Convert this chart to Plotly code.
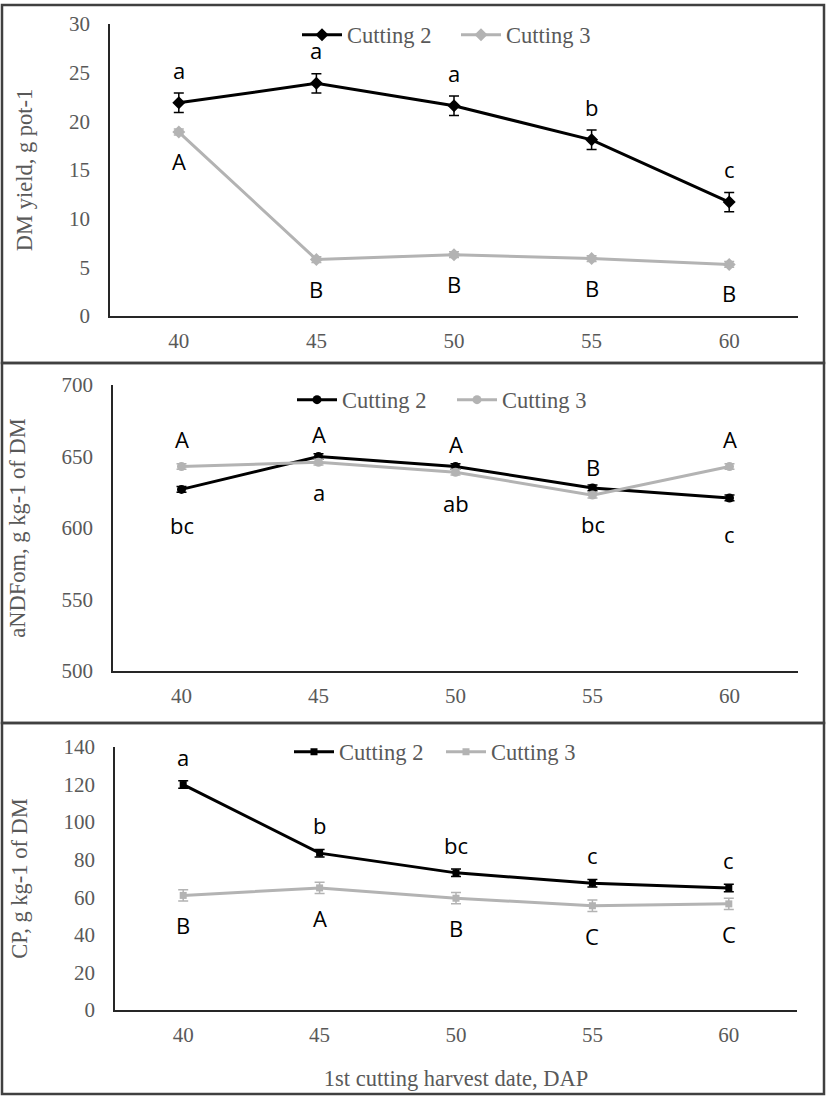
import plotly.graph_objects as go

# ---------------- data ----------------
dap = ["40", "45", "50", "55", "60"]

dm_c2 = [21.9, 23.9, 21.6, 18.1, 11.7]
dm_c2_err = [1.0, 1.0, 1.0, 1.0, 1.0]
dm_c3 = [18.9, 5.8, 6.3, 5.9, 5.3]
dm_c3_err = [0.3, 0.3, 0.3, 0.3, 0.3]
dm_c2_letters = ["a", "a", "a", "b", "c"]
dm_c3_letters = ["A", "B", "B", "B", "B"]

ndf_c2 = [627, 650, 643, 628, 621]
ndf_c2_err = [2, 2, 2, 2, 2]
ndf_c3 = [643, 646, 639, 623, 643]
ndf_c3_err = [2, 2, 2, 2, 2]
ndf_c2_letters = ["bc", "a", "ab", "bc", "c"]
ndf_c3_letters = ["A", "A", "A", "B", "A"]

cp_c2 = [120, 83.5, 73, 67.5, 65]
cp_c2_err = [2, 2, 2, 2, 2]
cp_c3 = [61, 65, 59.5, 55.5, 56.5]
cp_c3_err = [3, 3, 3, 3, 3]
cp_c2_letters = ["a", "b", "bc", "c", "c"]
cp_c3_letters = ["B", "A", "B", "C", "C"]

series_names = ["Cutting 2", "Cutting 3"]
y_titles = ["DM yield, g pot-1", "aNDFom, g kg-1 of DM", "CP, g kg-1 of DM"]
x_title = "1st cutting harvest date, DAP"

# ---------------- styling ----------------
W, H = 827, 1097
BLACK = "#000000"
GRAY = "#b3b3b3"
TXT = "#595959"
SERIF = "Liberation Serif"
SANS = "Open Sans"
TICK_SIZE = 21
TITLE_SIZE = 22.5
LETTER_SIZE = 22


def px_x(v):
    return v / W


def px_y(v):
    return 1 - v / H


fig = go.Figure()

panels = [
    dict(c2=dm_c2, c2e=dm_c2_err, c3=dm_c3, c3e=dm_c3_err, l2=dm_c2_letters, l3=dm_c3_letters,
         sym="diamond", sz=10, rng=[0, 30], dt=5, xd=[110, 798], yd=[24, 316],
         s2=33, s3=-29, leg_x=297, leg_y=35, ew=104),
    dict(c2=ndf_c2, c2e=ndf_c2_err, c3=ndf_c3, c3e=ndf_c3_err, l2=ndf_c2_letters, l3=ndf_c3_letters,
         sym="circle", sz=9, rng=[500, 700], dt=50, xd=[113, 798], yd=[385, 671],
         s2=-36, s3=28, leg_x=292, leg_y=400, ew=105),
    dict(c2=cp_c2, c2e=cp_c2_err, c3=cp_c3, c3e=cp_c3_err, l2=cp_c2_letters, l3=cp_c3_letters,
         sym="square", sz=7, rng=[0, 140], dt=20, xd=[115, 797], yd=[747, 1010],
         s2=28, s3=-30, leg_x=289, leg_y=752, ew=97),
]

layout_extra = {}
annotations = []
for i, p in enumerate(panels):
    n = i + 1
    xa = "x" if n == 1 else f"x{n}"
    ya = "y" if n == 1 else f"y{n}"
    leg = "legend" if n == 1 else f"legend{n}"
    for name, vals, errs, col in [(series_names[0], p["c2"], p["c2e"], BLACK),
                                  (series_names[1], p["c3"], p["c3e"], GRAY)]:
        fig.add_trace(go.Scatter(
            x=dap, y=vals, name=name, mode="lines+markers",
            line=dict(color=col, width=3),
            marker=dict(symbol=p["sym"], size=p["sz"], color=col),
            error_y=dict(type="data", array=errs, color=col, thickness=1.5, width=5),
            xaxis=xa, yaxis=ya, legend=leg, showlegend=True,
        ))
    for vals, letters, shift in [(p["c2"], p["l2"], p["s2"]), (p["c3"], p["l3"], p["s3"])]:
        for j, (v, t) in enumerate(zip(vals, letters)):
            annotations.append(dict(
                x=j, y=v, xref=xa, yref=ya, text=t, showarrow=False,
                yshift=shift, font=dict(family=SANS, size=LETTER_SIZE, color=BLACK),
            ))
    xkey = "xaxis" if n == 1 else f"xaxis{n}"
    ykey = "yaxis" if n == 1 else f"yaxis{n}"
    layout_extra[xkey] = dict(
        domain=[px_x(p["xd"][0]), px_x(p["xd"][1])], anchor=ya,
        type="category", categoryorder="array", categoryarray=dap,
        range=[-0.5, 4.5], showgrid=False, zeroline=False,
        showline=True, linecolor="#262626", linewidth=1.5, ticks="",
        ticklabelstandoff=5,
        tickfont=dict(family=SERIF, size=TICK_SIZE, color=TXT),
    )
    layout_extra[ykey] = dict(
        domain=[px_y(p["yd"][1]), px_y(p["yd"][0])], anchor=xa,
        range=p["rng"], dtick=p["dt"], tick0=0, showgrid=False, zeroline=False,
        showline=True, linecolor="#262626", linewidth=1.5, ticks="",
        ticklabelstandoff=14,
        tickfont=dict(family=SERIF, size=TICK_SIZE, color=TXT),
        title=dict(text=y_titles[i], font=dict(family=SERIF, size=TITLE_SIZE, color=TXT), standoff=30),
    )
    layout_extra[leg] = dict(
        orientation="h", x=px_x(p["leg_x"]), y=px_y(p["leg_y"]),
        xanchor="left", yanchor="middle", bgcolor="rgba(0,0,0,0)",
        font=dict(family=SERIF, size=TITLE_SIZE, color=TXT),
        entrywidth=p["ew"], entrywidthmode="pixels", itemwidth=40,
        traceorder="normal",
    )

layout_extra["xaxis3"]["title"] = dict(text=x_title, font=dict(family=SERIF, size=TITLE_SIZE, color=TXT), standoff=24)

# panel borders
shapes = []
for top, bot in [(5, 363), (363, 723), (723, 1094)]:
    shapes.append(dict(type="rect", xref="paper", yref="paper",
                       x0=px_x(2), x1=px_x(824), y0=px_y(bot), y1=px_y(top),
                       line=dict(color="#404040", width=2.5), fillcolor="rgba(0,0,0,0)"))

fig.update_layout(
    width=W, height=H, margin=dict(l=0, r=0, t=0, b=0, autoexpand=False),
    paper_bgcolor="white", plot_bgcolor="white",
    annotations=annotations, shapes=shapes, **layout_extra,
)

fig.write_html("out.html", config={"displayModeBar": False},
               post_script="document.body.style.margin='0';")
